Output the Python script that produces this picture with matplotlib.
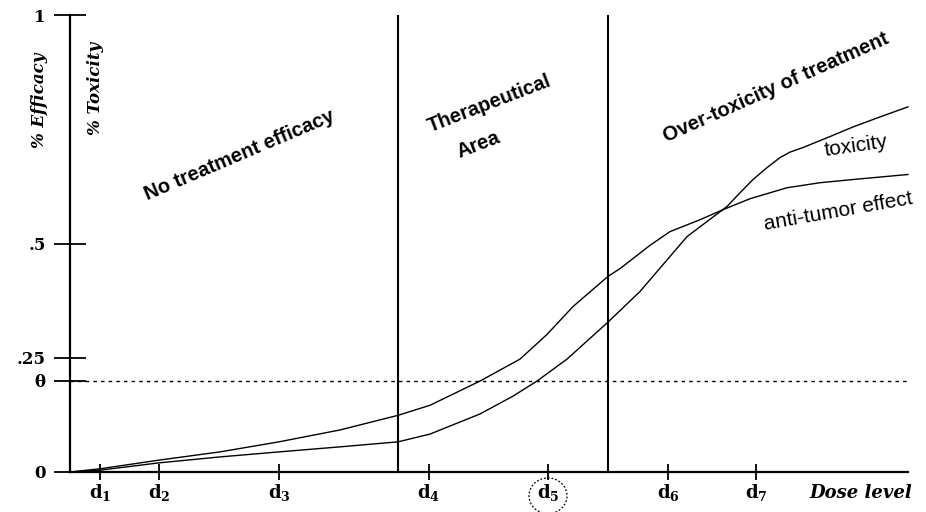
import numpy as np
import matplotlib
matplotlib.use("Agg")
import matplotlib.pyplot as plt
from matplotlib.patches import Ellipse

plt.rcParams['mathtext.fontset'] = 'dejavuserif'

# dose levels (positions along the dose axis) and their labels
dose_pos = [0.30, 0.89, 2.09, 3.59, 4.78, 5.98, 6.86]
dose_labels = [r'$\mathbf{d}_{\mathbf{%d}}$' % i for i in range(1, 8)]
x_end = 8.38

# boundaries of the three areas
area_bounds = [3.28, 5.38]

# y ticks
theta = 0.2
y_ticks = [0, theta, 0.25, 0.5, 1]
y_labels = ['0', 'θ', '.25', '.5', '1']

# anti-tumor effect (efficacy) curve
eff_x = [0, 0.30, 0.89, 1.50, 2.09, 2.70, 3.28, 3.60, 4.10, 4.50, 4.77, 5.03, 5.38,
         5.50, 5.80, 6.00, 6.30, 6.53, 6.80, 7.17, 7.50, 7.83, 8.38]
eff_y = [0, 0.007, 0.026, 0.044, 0.066, 0.092, 0.124, 0.146, 0.199, 0.247, 0.301, 0.362, 0.428,
         0.445, 0.496, 0.526, 0.552, 0.574, 0.598, 0.622, 0.633, 0.640, 0.651]

# toxicity curve
tox_x = [0, 0.30, 0.89, 1.50, 2.09, 2.70, 3.28, 3.60, 4.10, 4.43, 4.67, 4.97, 5.38,
         5.70, 6.17, 6.57, 6.70, 6.83, 6.97, 7.10, 7.20, 7.33, 7.60, 7.83, 8.10, 8.38]
tox_y = [0, 0.004, 0.020, 0.033, 0.044, 0.055, 0.066, 0.083, 0.127, 0.166, 0.199, 0.247, 0.328,
         0.395, 0.515, 0.581, 0.611, 0.640, 0.666, 0.688, 0.700, 0.710, 0.734, 0.755, 0.777, 0.799]

serif = 'DejaVu Serif'
sans = 'Liberation Sans'

fig = plt.figure(figsize=(9.26, 5.12), dpi=100)
ax = fig.add_axes([70 / 926, 40 / 512, (908 - 70) / 926, (472 - 15) / 512])
ax.set_xlim(0, x_end)
ax.set_ylim(0, 1)

for s in ['top', 'right']:
    ax.spines[s].set_visible(False)
for s in ['left', 'bottom']:
    ax.spines[s].set_linewidth(1.6)

ax.plot(eff_x, eff_y, color='black', lw=1.0, clip_on=False)
ax.plot(tox_x, tox_y, color='black', lw=1.0, clip_on=False)

for b in area_bounds:
    ax.axvline(b, color='black', lw=1.5)

ax.axhline(theta, color='black', lw=1.0, ls=(0, (2.5, 3)))

ax.set_yticks(y_ticks)
ax.set_yticklabels(y_labels, fontfamily=serif, fontweight='bold', fontsize=12)
ax.tick_params(axis='y', direction='inout', length=23, width=1.3, pad=6)

ax.set_xticks(dose_pos)
ax.set_xticklabels(dose_labels, fontsize=13)
ax.tick_params(axis='x', direction='inout', length=11, width=1.3, pad=2)

# circle around the chosen dose d5
ax.add_patch(Ellipse((dose_pos[4], -0.052), 0.38, 0.078, fill=False,
                     ls=(0, (1.5, 1.5)), lw=0.9, clip_on=False))

ax.text(x_end + 0.04, -0.045, 'Dose level', ha='right', va='center',
        fontfamily=serif, fontweight='bold', fontstyle='italic', fontsize=13)

ax.text(-0.30, 0.814, '% Efficacy', rotation=90, ha='center', va='center',
        fontfamily=serif, fontweight='bold', fontstyle='italic', fontsize=12)
ax.text(0.25, 0.84, '% Toxicity', rotation=90, ha='center', va='center',
        fontfamily=serif, fontweight='bold', fontstyle='italic', fontsize=12)

ax.text(1.70, 0.694, 'No treatment efficacy', rotation=23, ha='center', va='center',
        fontfamily=sans, fontweight='bold', fontsize=14.5, rotation_mode='anchor')
ax.text(4.19, 0.806, 'Therapeutical', rotation=21, ha='center', va='center',
        fontfamily=sans, fontweight='bold', fontsize=14.5, rotation_mode='anchor')
ax.text(4.08, 0.716, 'Area', rotation=21, ha='center', va='center',
        fontfamily=sans, fontweight='bold', fontsize=14.5, rotation_mode='anchor')
ax.text(7.06, 0.841, 'Over-toxicity of treatment', rotation=24, ha='center', va='center',
        fontfamily=sans, fontweight='bold', fontsize=14.5, rotation_mode='anchor')

ax.text(7.86, 0.714, 'toxicity', rotation=8, ha='center', va='center',
        fontfamily=sans, fontsize=15, rotation_mode='anchor')
ax.text(7.68, 0.570, 'anti-tumor effect', rotation=10, ha='center', va='center',
        fontfamily=sans, fontsize=15, rotation_mode='anchor')

fig.savefig('out.png', dpi=100)
